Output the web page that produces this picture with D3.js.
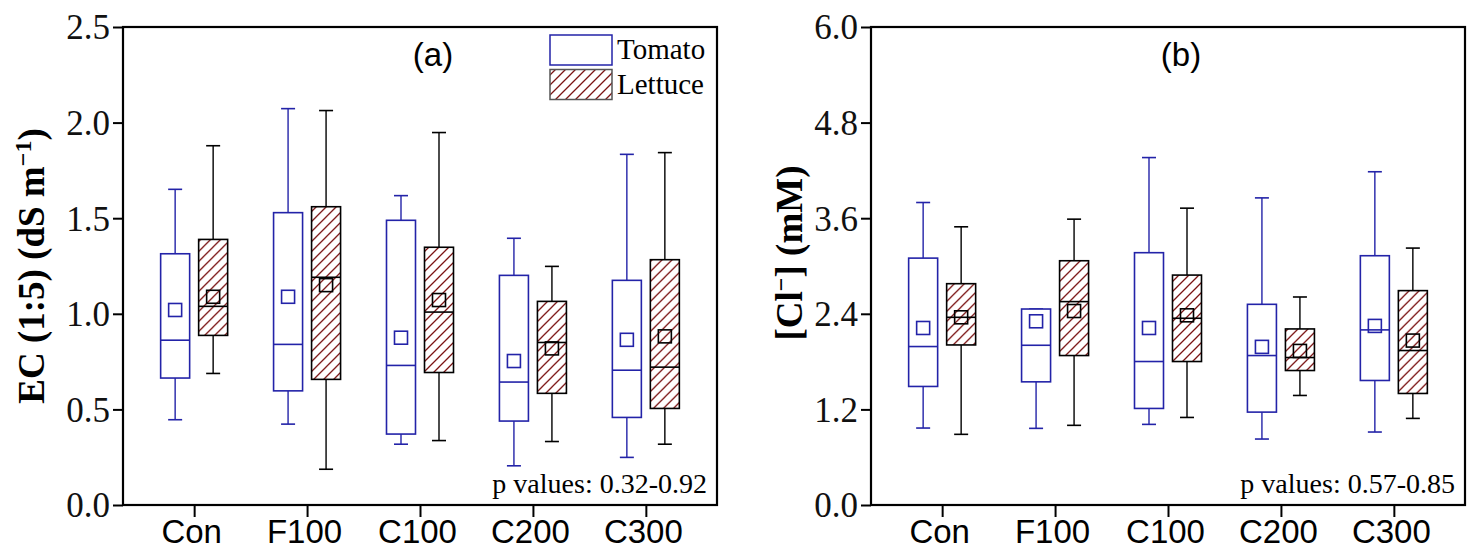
<!DOCTYPE html>
<html>
<head>
<meta charset="utf-8">
<script src="https://cdn.jsdelivr.net/npm/d3@7"></script>
<style>
  html, body { margin: 0; padding: 0; background: #fff; }
  svg { display: block; }
</style>
</head>
<body>
<svg id="chart" width="1484" height="558"></svg>
<script>
// categories and series
const groups = ['Con', 'F100', 'C100', 'C200', 'C300'];
const seriesNames = ['Tomato', 'Lettuce'];

// each row: [whisker low, Q1, median, Q3, whisker high, mean]
const ecTomato = [
    [0.446, 0.664, 0.862, 1.314, 1.651, 1.020],
    [0.423, 0.597, 0.840, 1.529, 2.073, 1.089],
    [0.318, 0.371, 0.730, 1.489, 1.618, 0.875],
    [0.205, 0.439, 0.643, 1.201, 1.395, 0.753],
    [0.249, 0.458, 0.705, 1.175, 1.834, 0.864]
];
const ecLettuce = [
    [0.688, 0.887, 1.039, 1.389, 1.879, 1.089],
    [0.187, 0.657, 1.191, 1.560, 2.063, 1.150],
    [0.337, 0.693, 1.009, 1.348, 1.948, 1.072],
    [0.332, 0.584, 0.850, 1.065, 1.248, 0.819],
    [0.318, 0.505, 0.721, 1.283, 1.843, 0.882]
];
const clTomato = [
    [0.966, 1.488, 1.989, 3.099, 3.797, 2.222],
    [0.962, 1.546, 2.005, 2.460, 2.460, 2.306],
    [1.012, 1.212, 1.801, 3.167, 4.361, 2.222],
    [0.828, 1.166, 1.876, 2.519, 3.855, 1.985],
    [0.916, 1.563, 2.198, 3.129, 4.183, 2.248]
];
const clLettuce = [
    [0.887, 2.009, 2.356, 2.778, 3.492, 2.356],
    [1.000, 1.876, 2.553, 3.066, 3.588, 2.435],
    [1.099, 1.801, 2.344, 2.886, 3.726, 2.381],
    [1.375, 1.688, 1.851, 2.210, 2.611, 1.934],
    [1.087, 1.400, 1.939, 2.691, 3.225, 2.064]
];

// tick labels
const ecTicks = [0, 0.5, 1.0, 1.5, 2.0, 2.5];
const clTicks = [0, 1.2, 2.4, 3.6, 4.8, 6.0];

const BLUE = '#2323a8';
const HATCH = '#7a1414';
const serif = '"Liberation Serif", "Times New Roman", serif';
const sans = '"Liberation Sans", Arial, sans-serif';

const svg = d3.select('#chart');

// hatch pattern for lettuce
const defs = svg.append('defs');
const pat = defs.append('pattern')
    .attr('id', 'hatch')
    .attr('patternUnits', 'userSpaceOnUse')
    .attr('width', 10)
    .attr('height', 10);
pat.append('path')
    .attr('d', 'M0,10 L10,0 M-3,3 L3,-3 M7,13 L13,7')
    .style('stroke', HATCH)
    .style('stroke-width', 1.3)
    .style('fill', 'none');

function drawPanel(left, opts) {
    const top = 27, innerWidth = 594, innerHeight = 478;
    const g = svg.append('g').attr('transform', `translate(${left},${top})`);

    const xScale = d3.scalePoint()
        .domain(groups)
        .range([0, innerWidth])
        .padding(0.63);

    const yScale = d3.scaleLinear()
        .domain([0, opts.ticks[opts.ticks.length - 1]])
        .range([innerHeight, 0]);

    // axes
    const yAxis = g.append('g')
        .call(d3.axisLeft(yScale).tickValues(opts.ticks).tickFormat(d3.format('.1f'))
            .tickSize(10).tickPadding(3));
    yAxis.select('.domain').remove();
    yAxis.selectAll('line').style('stroke', '#000').style('stroke-width', 2);
    yAxis.selectAll('text')
        .style('font-family', serif)
        .style('font-size', '35px')
        .attr('dy', '0.34em')
        .style('fill', '#111');

    const xAxis = g.append('g')
        .attr('transform', `translate(0,${innerHeight})`)
        .call(d3.axisBottom(xScale).tickSize(12).tickPadding(0));
    xAxis.select('.domain').remove();
    xAxis.selectAll('line').style('stroke', '#000').style('stroke-width', 2);
    xAxis.selectAll('text')
        .attr('y', 0)
        .attr('dy', 38)
        .attr('dx', -3)
        .style('font-family', sans)
        .style('font-size', '33px')
        .style('fill', '#000');

    // frame
    g.append('rect')
        .attr('x', 0).attr('y', 0)
        .attr('width', innerWidth).attr('height', innerHeight)
        .style('fill', 'none')
        .style('stroke', '#000')
        .style('stroke-width', 2.2);

    // box plots
    const boxW = 29, offset = 19, capW = 14;
    const sets = [
        { data: opts.tomato, dx: -offset, stroke: BLUE, fill: '#fff' },
        { data: opts.lettuce, dx: offset, stroke: '#000', fill: 'url(#hatch)' }
    ];

    sets.forEach(s => {
        const boxes = g.selectAll(null)
            .data(s.data.map((d, i) => ({ group: groups[i], v: d })))
            .enter()
            .append('g')
            .attr('transform', d => `translate(${xScale(d.group) + s.dx},0)`);

        // whiskers
        boxes.append('line')
            .attr('x1', 0).attr('x2', 0)
            .attr('y1', d => yScale(d.v[4])).attr('y2', d => yScale(d.v[3]))
            .style('stroke', s.stroke).style('stroke-width', 1.4);
        boxes.append('line')
            .attr('x1', 0).attr('x2', 0)
            .attr('y1', d => yScale(d.v[1])).attr('y2', d => yScale(d.v[0]))
            .style('stroke', s.stroke).style('stroke-width', 1.4);
        [0, 4].forEach(k => {
            boxes.append('line')
                .attr('x1', -capW / 2).attr('x2', capW / 2)
                .attr('y1', d => yScale(d.v[k])).attr('y2', d => yScale(d.v[k]))
                .style('stroke', s.stroke).style('stroke-width', 1.6);
        });

        // box
        boxes.append('rect')
            .attr('x', -boxW / 2)
            .attr('width', boxW)
            .attr('y', d => yScale(d.v[3]))
            .attr('height', d => yScale(d.v[1]) - yScale(d.v[3]))
            .style('fill', s.fill)
            .style('stroke', s.stroke)
            .style('stroke-width', 1.6);

        // median
        boxes.append('line')
            .attr('x1', -boxW / 2).attr('x2', boxW / 2)
            .attr('y1', d => yScale(d.v[2])).attr('y2', d => yScale(d.v[2]))
            .style('stroke', s.stroke).style('stroke-width', 1.6);

        // mean marker
        boxes.append('rect')
            .attr('x', -6.5).attr('width', 13)
            .attr('y', d => yScale(d.v[5]) - 6.5).attr('height', 13)
            .style('fill', 'none')
            .style('stroke', s.stroke)
            .style('stroke-width', 1.6);
    });

    // panel label
    g.append('text')
        .attr('x', 310).attr('y', 39)
        .attr('text-anchor', 'middle')
        .style('font-family', sans)
        .style('font-size', '33px')
        .text(opts.label);

    // p values
    g.append('text')
        .attr('x', innerWidth - 10).attr('y', 466)
        .attr('text-anchor', 'end')
        .style('font-family', serif)
        .style('font-size', '28px')
        .text(opts.pText);

    // y title
    const title = g.append('text')
        .attr('transform', `translate(${opts.titleX},${opts.titleY}) rotate(-90)`)
        .attr('text-anchor', 'middle')
        .style('font-family', serif)
        .style('font-weight', 'bold')
        .style('font-size', '37px');
    opts.title(title);

    return g;
}

const gA = drawPanel(123, {
    tomato: ecTomato, lettuce: ecLettuce, ticks: ecTicks,
    label: '(a)', pText: 'p values: 0.32-0.92',
    titleX: -79, titleY: 239,
    title: t => {
        t.append('tspan').text('EC (1:5) (dS m');
        t.append('tspan').attr('baseline-shift', '55%').style('font-size', '24px').text('\u22121');
        t.append('tspan').text(')');
    }
});

drawPanel(871, {
    tomato: clTomato, lettuce: clLettuce, ticks: clTicks,
    label: '(b)', pText: 'p values: 0.57-0.85',
    titleX: -69, titleY: 226,
    title: t => {
        t.append('tspan').text('[Cl');
        t.append('tspan').attr('baseline-shift', '55%').style('font-size', '24px').text('\u2212');
        t.append('tspan').text('] (mM)');
    }
});

// legend in panel (a)
const legend = gA.append('g').attr('transform', 'translate(427,8)');
seriesNames.forEach((name, i) => {
    legend.append('rect')
        .attr('x', 0).attr('y', i * 34.5)
        .attr('width', 62).attr('height', 30)
        .style('fill', i === 0 ? '#fff' : 'url(#hatch)')
        .style('stroke', i === 0 ? BLUE : '#555')
        .style('stroke-width', 1.5);
    legend.append('text')
        .attr('x', 67).attr('y', i * 34.5 + 24)
        .style('font-family', serif)
        .style('font-size', '29px')
        .text(name);
});
</script>
</body>
</html>
